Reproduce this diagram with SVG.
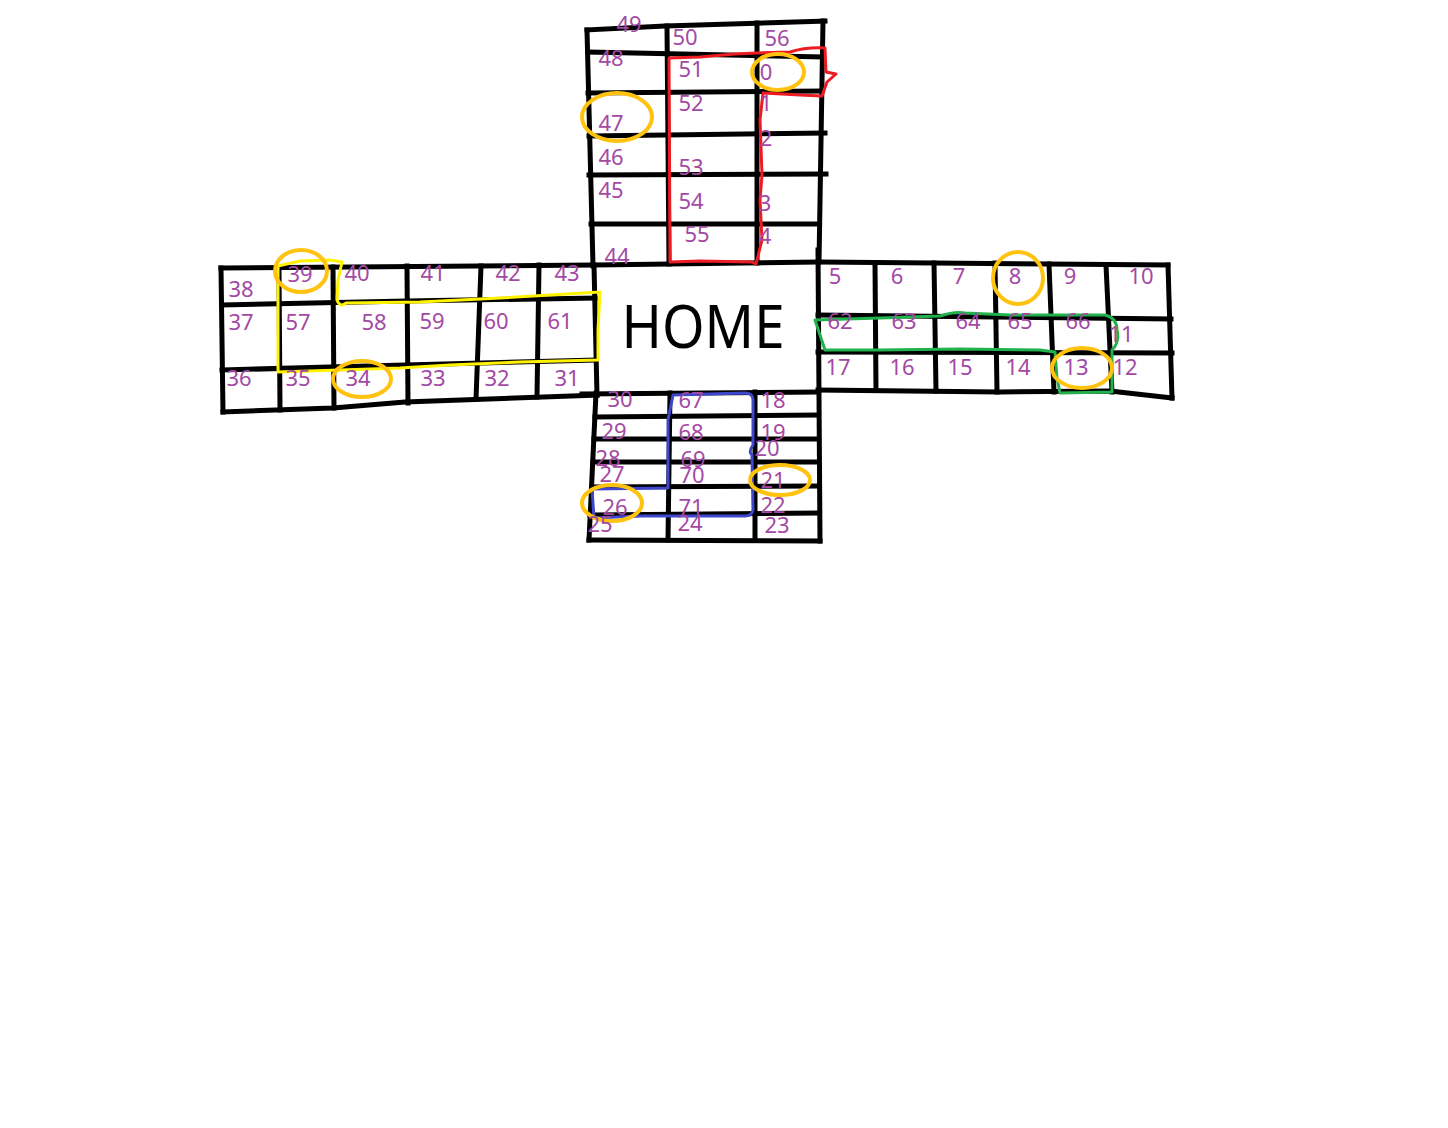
<svg xmlns="http://www.w3.org/2000/svg" width="1448" height="1128" viewBox="0 0 1448 1128">
<style>
.g line,.g polyline{stroke:#000;stroke-width:5;stroke-linecap:square;fill:none}
.n{font-family:"Noto Sans","Open Sans",sans-serif;font-size:22px;fill:#a349a4;text-anchor:middle}
.c{fill:none;stroke:#ffc20e;stroke-width:4}
.p{fill:none;stroke-width:3;stroke-linejoin:round}
</style>
<rect width="1448" height="1128" fill="#fff"/>
<g id="grid" class="g">
<!-- top arm -->
<polyline points="587,30 665,26 825,21"/>
<line x1="587" y1="30" x2="593" y2="266"/>
<line x1="667" y1="26" x2="669" y2="264"/>
<line x1="757" y1="23" x2="757" y2="263"/>
<line x1="823" y1="21" x2="819" y2="262"/>
<line x1="588" y1="52" x2="822" y2="57"/>
<line x1="588" y1="93" x2="822" y2="91"/>
<line x1="589" y1="136" x2="825" y2="133"/>
<line x1="589" y1="175" x2="826" y2="174"/>
<line x1="591" y1="224" x2="818" y2="224"/>
<!-- long top line of left arm / home / right arm -->
<polyline points="221,268 595,265 819,262 1168,265"/>
<!-- left arm -->
<line x1="221" y1="268" x2="223" y2="412"/>
<polyline points="222,305 407,301 595,298"/>
<polyline points="222,370 405,365 595,360"/>
<polyline points="223,412 333,408 405,402 597,395"/>
<line x1="279" y1="268" x2="280" y2="410"/>
<line x1="333" y1="267" x2="334" y2="408"/>
<line x1="407" y1="266" x2="408" y2="403"/>
<line x1="481" y1="266" x2="476" y2="399"/>
<line x1="539" y1="265" x2="537" y2="397"/>
<line x1="594" y1="265" x2="597" y2="395"/>
<!-- right arm -->
<line x1="1168" y1="265" x2="1172" y2="398"/>
<line x1="818" y1="315" x2="1171" y2="319"/>
<line x1="818" y1="352" x2="1172" y2="353"/>
<polyline points="818,390 1000,392 1110,391 1172,398"/>
<line x1="875" y1="263" x2="876" y2="390"/>
<line x1="934" y1="263" x2="936" y2="391"/>
<line x1="995" y1="263" x2="997" y2="392"/>
<line x1="1049" y1="264" x2="1054" y2="392"/>
<line x1="1106" y1="265" x2="1112" y2="392"/>
<!-- home right edge / bottom arm right edge -->
<line x1="818" y1="250" x2="820" y2="541"/>
<!-- bottom arm -->
<line x1="582" y1="394" x2="818" y2="392"/>
<line x1="596" y1="393" x2="589" y2="540"/>
<line x1="589" y1="540" x2="820" y2="541"/>
<line x1="670" y1="393" x2="668" y2="540"/>
<line x1="755" y1="392" x2="755" y2="540"/>
<line x1="595" y1="417" x2="818" y2="415"/>
<line x1="594" y1="439" x2="818" y2="439"/>
<line x1="593" y1="462" x2="818" y2="462"/>
<line x1="592" y1="487" x2="818" y2="486"/>
<line x1="590" y1="515" x2="818" y2="513"/>
</g>
<g id="home">
<text x="703" y="348" font-family="Noto Sans,Open Sans,sans-serif" font-size="60" fill="#000" text-anchor="middle" textLength="163" lengthAdjust="spacingAndGlyphs">HOME</text>
</g>
<g id="paths">
<path class="p" stroke="#ed1c24" d="M670,262 L669,58 L700,57 L735,54 L756,53 L790,52 Q806,47 825,48 L826,72 L836,74 L827,82 L822,96 L800,95 L763,93 L760,120 L762,175 L760,200 L762,240 L756,264 L752,262 L700,261 Z"/>
<path class="p" stroke="#fff200" d="M278,372 L278,266 L300,261 L330,260 L342,262 L338,280 L337,300 Q340,308 346,303 L420,302 L500,298 L600,292 L598,330 L598,360 L520,362 L450,365 L400,368 L340,370 Z"/>
<path class="p" stroke="#22b14c" d="M815,320 L880,318 L940,316 Q955,311 965,313 L1010,315 L1105,315 Q1117,318 1117,330 Q1120,342 1112,350 L1112,392 L1060,393 L1057,378 L1055,352 L1040,350 L960,349 L880,350 L825,350 L820,335 Z"/>
<path class="p" stroke="#3f48cc" d="M668,488 L668,420 L673,395 L745,393 Q753,393 753,400 L753,445 Q748,452 752,455 L753,510 Q752,516 745,516 L640,516 L594,518 L592,489 Z"/>
</g>
<g id="circles">
<ellipse class="c" cx="778" cy="72" rx="26" ry="18"/>
<ellipse class="c" cx="617" cy="117" rx="35" ry="24"/>
<ellipse class="c" cx="301" cy="271" rx="26" ry="21"/>
<ellipse class="c" cx="362" cy="379" rx="29" ry="18"/>
<ellipse class="c" cx="1018" cy="278" rx="25" ry="26"/>
<ellipse class="c" cx="1082" cy="368" rx="30" ry="20"/>
<ellipse class="c" cx="780" cy="480" rx="30" ry="15"/>
<ellipse class="c" cx="612" cy="503" rx="30" ry="18"/>
</g>
<g id="labels" class="n">
<text x="629" y="32">49</text><text x="685" y="45">50</text><text x="777" y="46">56</text>
<text x="611" y="66">48</text><text x="691" y="77">51</text><text x="766" y="80">0</text>
<text x="691" y="111">52</text><text x="766" y="111">1</text><text x="611" y="131">47</text>
<text x="766" y="146">2</text><text x="611" y="165">46</text><text x="691" y="175">53</text>
<text x="611" y="198">45</text><text x="691" y="209">54</text><text x="765" y="211">3</text>
<text x="697" y="242">55</text><text x="765" y="244">4</text><text x="617" y="264">44</text>
<text x="241" y="297">38</text><text x="300" y="282">39</text><text x="357" y="281">40</text>
<text x="433" y="281">41</text><text x="508" y="281">42</text><text x="567" y="281">43</text>
<text x="241" y="330">37</text><text x="298" y="330">57</text><text x="374" y="330">58</text>
<text x="432" y="329">59</text><text x="496" y="329">60</text><text x="560" y="329">61</text>
<text x="239" y="386">36</text><text x="298" y="386">35</text><text x="358" y="386">34</text>
<text x="433" y="386">33</text><text x="497" y="386">32</text><text x="567" y="386">31</text>
<text x="835" y="284">5</text><text x="897" y="284">6</text><text x="959" y="284">7</text>
<text x="1015" y="284">8</text><text x="1070" y="284">9</text><text x="1141" y="284">10</text>
<text x="840" y="329">62</text><text x="904" y="329">63</text><text x="968" y="329">64</text>
<text x="1020" y="329">65</text><text x="1078" y="329">66</text><text x="1121" y="342">11</text>
<text x="838" y="375">17</text><text x="902" y="375">16</text><text x="960" y="375">15</text>
<text x="1018" y="375">14</text><text x="1076" y="375">13</text><text x="1125" y="375">12</text>
<text x="620" y="407">30</text><text x="691" y="408">67</text><text x="773" y="408">18</text>
<text x="614" y="439">29</text><text x="691" y="440">68</text><text x="773" y="440">19</text>
<text x="767" y="456">20</text><text x="608" y="466">28</text><text x="693" y="467">69</text>
<text x="612" y="482">27</text><text x="692" y="483">70</text><text x="773" y="488">21</text>
<text x="615" y="515">26</text><text x="691" y="515">71</text><text x="773" y="513">22</text>
<text x="600" y="532">25</text><text x="690" y="531">24</text><text x="777" y="533">23</text>
</g>
</svg>
